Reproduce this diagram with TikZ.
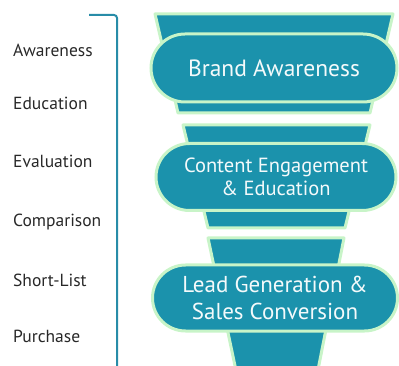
\documentclass[tikz,border=0pt]{standalone}
\usepackage{fontspec}
\setmainfont{PT Sans}
\usetikzlibrary{shapes.misc}
\definecolor{teal1}{RGB}{27,146,172}
\definecolor{mint}{RGB}{200,244,200}
\definecolor{brack}{RGB}{40,140,168}
\definecolor{lbl}{RGB}{40,40,40}
\tikzset{
  seg/.style={fill=teal1, draw=mint, line width=3pt, line join=round},
  pill/.style={rounded rectangle, fill=teal1, draw=mint, line width=3pt, text=white!95!teal1, align=center, inner sep=0pt},
  lab/.style={anchor=west, text=lbl, font=\fontsize{17.5}{20}\selectfont, inner sep=0pt}
}
\begin{document}
\begin{tikzpicture}[x=1pt,y=-1pt]
\useasboundingbox (0,0) rectangle (399,366);
% bracket
\coordinate (bt) at (89,15);
\coordinate (bb) at (117,372);
\draw[brack, line width=2pt, rounded corners=3pt] (bt) -- (117,15) -- (bb);
% labels
\node[lab] (l1) at (13,50) {Awareness};
\node[lab] (l2) at (13,103) {Education};
\node[lab] (l3) at (13,161) {Evaluation};
\node[lab] (l4) at (13,222) {Comparison};
\node[lab] (l5) at (13,280) {Short-List};
\node[lab] (l6) at (13,336) {Purchase};
% funnel segments
\draw[seg] (155,14) -- (393,14) -- (370,113) -- (178,113) -- cycle;
\draw[seg] (183,125) -- (370,125) -- (345,228) -- (208,228) -- cycle;
\draw[seg] (208,238) -- (344,238) -- (316,380) -- (238,380) -- cycle;
% pills
\node[pill, minimum width=246pt, minimum height=68pt, font=\fontsize{23.5}{27}\selectfont] (p1) at (274,68) {Brand Awareness};
\node[pill, minimum width=240pt, minimum height=67pt, font=\fontsize{20.5}{23}\selectfont] (p2) at (276,177) {Content Engagement\\\& Education};
\node[pill, minimum width=245pt, minimum height=66pt, font=\fontsize{23}{27}\selectfont] (p3) at (275,298) {Lead Generation \&\\Sales Conversion};
\end{tikzpicture}
\end{document}
